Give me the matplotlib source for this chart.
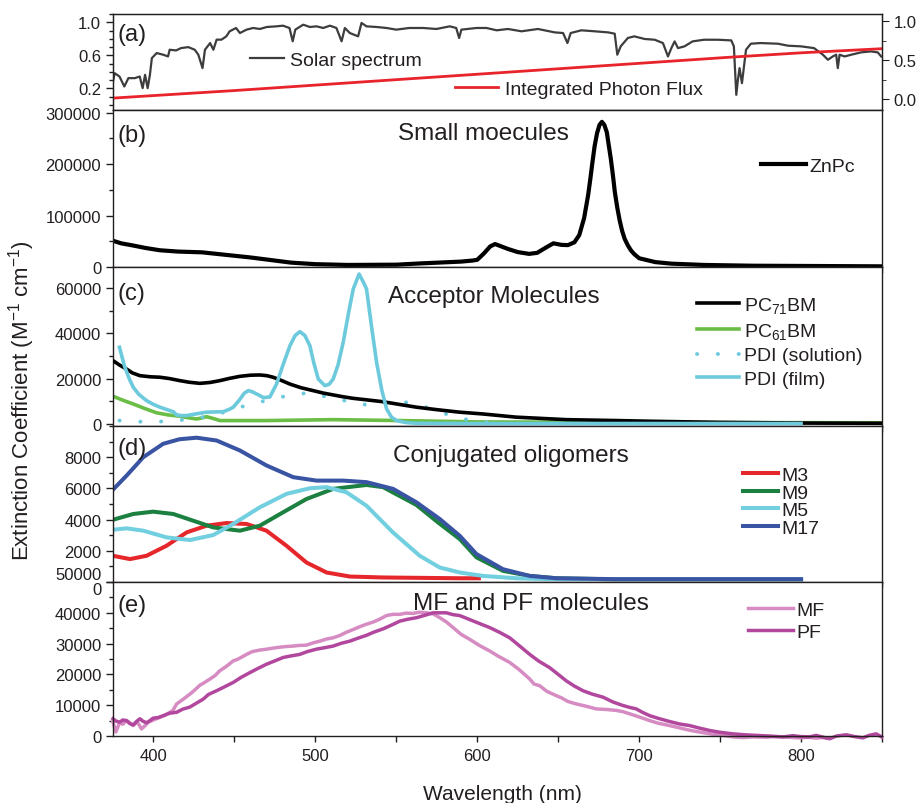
import matplotlib
matplotlib.use('Agg')
import matplotlib.pyplot as plt
from matplotlib.ticker import MultipleLocator, FixedLocator, FormatStrFormatter

plt.rcParams['font.family'] = ['Liberation Sans', 'DejaVu Sans']
plt.rcParams['mathtext.fontset'] = 'custom'
plt.rcParams['mathtext.rm'] = 'Liberation Sans'
plt.rcParams['mathtext.it'] = 'Liberation Sans:italic'
plt.rcParams['mathtext.default'] = 'regular'
TXT = '#231f20'
plt.rcParams['text.color'] = TXT
plt.rcParams['xtick.color'] = TXT
plt.rcParams['ytick.color'] = TXT
plt.rcParams['axes.edgecolor'] = '#231f20'

# ---------------- data ----------------
# (a) solar spectrum (normalised) and integrated photon flux
solar_wl = [375, 376, 379, 382, 384.5, 388.5, 391.5, 393.3, 394.8, 396.4,
            397.8, 399, 402, 406, 409, 410, 414, 417, 421.5, 425.5,
            427.7, 430.3, 431.8, 435, 437, 439, 442, 445, 447, 451,
            453.4, 457.5, 461.6, 465.7, 470, 476, 480, 484, 486, 487.6,
            492.5, 496.6, 500.7, 504.8, 509, 513, 516.2, 518.2, 521.3, 526.4,
            528.5, 531.6, 537.8, 544, 550, 558, 566.6, 574.8, 583, 587,
            588.8, 590.2, 599.5, 605.7, 612, 619, 627.3, 637.5, 647.8, 653,
            655.7, 657.7, 664.3, 672.5, 680.8, 684.9, 686.5, 688.6, 693, 697,
            703.4, 709.6, 714.7, 717.8, 719.9, 721.9, 724, 728, 733, 740,
            748.7, 756.9, 758.5, 760, 761, 762, 763.5, 766, 769, 775,
            785.7, 791.9, 800, 808, 813.5, 816.6, 819.6, 821.7, 822.7, 823.8,
            826.9, 831, 837, 843, 847.4, 849.5]
solar_val = [0.285, 0.385, 0.345, 0.224, 0.325, 0.325, 0.345, 0.204, 0.365, 0.204,
             0.365, 0.567, 0.628, 0.608, 0.587, 0.668, 0.66, 0.688, 0.70, 0.668,
             0.608, 0.446, 0.668, 0.749, 0.668, 0.79, 0.79, 0.83, 0.89, 0.931,
             0.87, 0.911, 0.931, 0.919, 0.943, 0.951, 0.959, 0.931, 0.77, 0.911,
             0.971, 0.943, 0.951, 0.931, 0.959, 0.931, 0.77, 0.931, 0.87, 0.83,
             0.992, 0.951, 0.943, 0.931, 0.911, 0.931, 0.931, 0.919, 0.951, 0.931,
             0.81, 0.911, 0.931, 0.931, 0.903, 0.919, 0.891, 0.919, 0.878, 0.87,
             0.749, 0.87, 0.903, 0.891, 0.878, 0.862, 0.608, 0.709, 0.81, 0.83,
             0.798, 0.789, 0.749, 0.587, 0.688, 0.769, 0.688, 0.709, 0.769, 0.789,
             0.789, 0.781, 0.709, 0.123, 0.305, 0.446, 0.264, 0.668, 0.741, 0.749,
             0.741, 0.717, 0.709, 0.688, 0.608, 0.547, 0.587, 0.608, 0.446, 0.608,
             0.587, 0.608, 0.636, 0.648, 0.636, 0.587]
flux_wl = [375, 450, 500, 550, 611, 700, 755, 800, 850]
flux_val = [0.013, 0.11, 0.18, 0.25, 0.335, 0.46, 0.537, 0.595, 0.648]

# (b) ZnPc
zn_wl = [375, 380, 387, 395, 404, 415, 430, 445, 460, 475, 485, 500, 520, 550,
         565, 583, 590, 597, 600, 604, 608, 611, 614, 619, 625, 632, 637, 642,
         647, 652, 656, 660, 663, 666, 668.5, 669.8, 671, 672.5, 674, 675.5,
         677, 678.5, 680, 682.5, 683.8, 685, 686.5, 688, 689.5, 691, 693, 695,
         697, 700, 710, 720, 740, 770, 850]
zn_val = [51000, 46000, 42000, 37000, 32500, 30000, 28500, 23500, 18500, 12500,
          8500, 5500, 4000, 4500, 7000, 9500, 10500, 12500, 14000, 26000, 40000,
          44600, 41000, 35000, 29000, 25500, 27500, 37000, 46000, 43000, 42500,
          48000, 62000, 95000, 140000, 170000, 200000, 235000, 260000, 276000,
          282000, 276000, 262000, 210000, 178000, 145000, 115000, 90000, 70000,
          55000, 42000, 32000, 25000, 17000, 9500, 6500, 4000, 2500, 1300]

# (c) acceptors
pc71_wl = [375, 379, 383.4, 387, 391.6, 398, 404, 410, 416.3, 422, 428.7, 435,
           441, 447, 453.4, 460, 465.7, 470, 473.9, 479, 484.2, 491, 498.6, 505,
           511, 517, 523.3, 532, 541.8, 552, 562.4, 575, 589, 603.6, 624, 655,
           686, 706.5, 750, 800, 850]
pc71_val = [27900, 26000, 24200, 22500, 21300, 20800, 20600, 20000, 19100, 18400,
            17900, 18300, 19100, 20100, 21000, 21500, 21600, 21300, 20600, 19200,
            17600, 16000, 14700, 13600, 12800, 12000, 11300, 10600, 9800, 8600,
            7400, 6300, 5200, 4400, 3000, 1900, 1500, 1200, 700, 400, 300]
pc61_wl = [375, 381, 387.5, 395, 402, 409, 416.3, 421, 426.6, 429.5, 432.8, 436,
           441, 470, 511, 552, 600, 700, 850]
pc61_val = [12200, 10500, 8800, 6700, 4900, 4000, 3400, 2800, 2200, 2600, 3200,
            2600, 1500, 1500, 1900, 1500, 900, 700, 500]
pdis_wl = [379, 391.6, 402.9, 414.3, 426.6, 437.9, 449.2, 461, 472.9, 484.2,
           496.2, 507.9, 519.2, 530.9, 542, 554.2, 565.5, 577.2, 589.2, 601, 612]
pdis_val = [1500, 1000, 1000, 1500, 2500, 4000, 6300, 9100, 10700, 12800,
            13700, 11800, 10100, 8500, 9000, 9800, 8100, 5200, 2500, 1000, 500]
pdif_wl = [379, 382, 385, 387.5, 391, 395.7, 400, 404, 408, 412.2, 414.3, 417,
           420.5, 426, 432.8, 438, 443.1, 447, 449.3, 453, 456, 458.6, 461,
           465.7, 468, 471.9, 476, 480, 484.3, 487.5, 490.4, 493.5, 496.6, 499,
           501.8, 505.9, 508.5, 511, 514, 517.2, 520.5, 523.4, 527, 530, 531.6,
           534.5, 537.8, 541, 544, 547, 550, 556, 562.4, 600, 700, 800]
pdif_val = [33800, 25700, 20000, 16200, 13000, 10300, 8600, 7400, 6400, 5400,
            4000, 3700, 3700, 4400, 5200, 5300, 5400, 6500, 7400, 10500, 13500,
            14700, 14200, 12500, 11600, 11900, 17600, 26000, 34500, 39000, 40700,
            39000, 34500, 27000, 19800, 16900, 17500, 19800, 26000, 36000, 49000,
            59500, 66100, 62000, 59500, 44000, 27200, 15000, 6600, 3000, 1500,
            600, 300, 200, 200, 200]

# (d) conjugated oligomers
m3_wl = [375, 385.5, 395.7, 408, 420.5, 432.8, 445.1, 457.5, 469.8, 482.2,
         494.5, 506.9, 521.3, 541.8, 589.2, 601]
m3_val = [1680, 1470, 1680, 2320, 3180, 3610, 3780, 3720, 3290, 2320,
          1250, 610, 350, 290, 240, 240]
m9_wl = [375, 387.5, 399.8, 412.2, 424.5, 436.9, 453.4, 465.7, 480.1, 494.5,
         511, 531.6, 541.8, 562.4, 576, 589.2, 599.5, 616, 632.4, 648.8, 680, 800]
m9_val = [3990, 4360, 4510, 4360, 3930, 3500, 3290, 3610, 4470, 5320,
          5970, 6220, 6080, 4940, 3800, 2750, 1580, 710, 390, 240, 180, 180]
m5_wl = [375, 383.4, 393.7, 408.1, 422.5, 436.9, 449.2, 465.7, 482.2, 496.6,
         506.9, 519.2, 531.6, 548, 564.5, 576.8, 589.2, 603.6, 624, 644.5, 800]
m5_val = [3350, 3440, 3290, 2860, 2690, 3010, 3720, 4790, 5650, 6010,
          6080, 5750, 4890, 3170, 1680, 930, 610, 390, 240, 180, 180]
m17_wl = [375, 383.4, 393.7, 406, 416, 426.6, 439, 453.4, 469.8, 486.3,
          500.7, 517.2, 531.6, 548, 562.4, 576.8, 589.2, 599.5, 615.9, 632.4,
          648.8, 685.9, 800]
m17_val = [5920, 6820, 8000, 8860, 9150, 9250, 9070, 8430, 7470, 6720,
           6500, 6500, 6400, 5970, 5110, 4040, 2960, 1790, 820, 390,
           240, 180, 180]

# (e) MF and PF
mf_wl = [375, 376.8, 379.2, 381, 383.4, 385.5, 387.5, 390, 392.6, 394.5, 396.8,
         400, 404, 407, 410.2, 412, 414.3, 418, 422.5, 425, 428.7, 431, 434.9,
         438, 441, 445, 449.3, 452, 457.5, 461, 465.7, 470, 476, 481, 486.3,
         490, 494.5, 499, 502.8, 507, 511, 515, 519.2, 523, 527.5, 531, 535.7,
         540, 543.9, 548, 552.2, 556, 560.4, 564, 568.7, 573, 576.9, 581, 585.1,
         590, 595.3, 601, 607.7, 613, 620, 626, 632.4, 635, 638.6, 643, 648.8,
         652, 656, 661.2, 667, 673.5, 680, 685.9, 690, 694.1, 700, 706.5, 712,
         716, 722.9, 730, 735, 739.4, 745, 751.7, 758, 764.1, 770, 778.5, 783,
         788.8, 795, 799, 805, 809.3, 813, 817.6]
mf_val = [4500, 1300, 4500, 3800, 5000, 4200, 3400, 4600, 2300, 3200, 4500,
          5200, 6100, 6700, 7700, 8300, 10400, 11800, 13600, 14700, 16500, 17200,
          18500, 19600, 21200, 22600, 24400, 24900, 26500, 27400, 27900, 28200,
          28700, 29000, 29200, 29400, 29500, 30300, 30800, 31500, 31900, 32600,
          33700, 34500, 35500, 36200, 37000, 38000, 39100, 39500, 39500, 39900,
          39800, 40200, 40000, 39600, 38400, 37000, 35200, 33000, 31400, 29500,
          27600, 25900, 23900, 21500, 18500, 16900, 16300, 14500, 13100, 12400,
          11200, 10400, 9700, 8800, 8600, 8300, 7900, 7200, 6200, 5000, 4100,
          3700, 2900, 2000, 1500, 1100, 600, 200, -300, -500, -300, -400, -200,
          -300, -500, -600, -400, -700, -500, -700]
pf_wl = [375, 377, 379.2, 381, 383.4, 385.5, 387.5, 389.5, 391.6, 393.5, 395.7,
         397.8, 399.8, 403, 406, 410, 414.3, 418, 422.5, 426, 430.8, 434, 439,
         444, 449.3, 454, 459.6, 464, 469.8, 475, 480.1, 485, 490.4, 495, 500.7,
         505, 511, 516, 521.3, 526, 531.6, 536, 541.9, 547, 552.2, 557, 562.4,
         567, 572.7, 577, 580.9, 585, 589.2, 595.3, 601, 607.7, 614, 620, 626,
         632.4, 638, 644.7, 650, 655, 660, 665.3, 671, 677.7, 684, 690, 694,
         698.2, 702, 706.5, 712, 718.8, 725, 731.1, 737, 743.5, 750, 757.9, 765,
         772.3, 780, 788.8, 795, 800, 805.2, 809.3, 813, 817.6, 822, 827.9, 833,
         838.2, 842, 846.4, 849.8]
pf_val = [5600, 4800, 4500, 5200, 5000, 4000, 3600, 4700, 5600, 4800, 4300,
          5000, 5800, 6000, 6600, 7400, 7700, 8700, 9400, 10500, 12000, 13500,
          14700, 16000, 17400, 19000, 20600, 21800, 23300, 24400, 25500, 26000,
          26500, 27400, 28200, 28600, 29200, 30100, 30800, 31700, 32700, 33700,
          34800, 36000, 37300, 37900, 38400, 39100, 40000, 40000, 40000, 39400,
          39100, 37800, 36600, 35200, 33600, 31900, 29300, 26500, 24300, 22200,
          20000, 17900, 16200, 14700, 13600, 12600, 11000, 9900, 9300, 8800, 7700,
          6600, 5700, 4700, 3900, 3400, 2600, 1800, 1200, 700, 400, 200, 0, -300,
          100, -200, -300, 200, -300, -900, 0, 400, -200, -600, 200, 700, -300]

# ---------------- figure ----------------
fig = plt.figure(figsize=(9.18, 8.04), dpi=100)
gs = fig.add_gridspec(5, 1, left=113/918, right=882/918, top=1-15/804,
                      bottom=1-737/804, height_ratios=[96, 157, 159, 156, 154],
                      hspace=0)
axes = [fig.add_subplot(gs[i]) for i in range(5)]
axa, axb, axc, axd, axe = axes

for ax in axes:
    ax.set_xlim(375, 850)
    ax.tick_params(axis='both', which='both', direction='out', labelsize=12,
                   width=1)
    ax.tick_params(axis='y', which='major', length=5)
    ax.tick_params(axis='y', which='minor', length=3)
    ax.tick_params(axis='x', which='both', length=4)
    for s in ax.spines.values():
        s.set_linewidth(1)
    ax.xaxis.set_major_locator(MultipleLocator(100))
    ax.xaxis.set_minor_locator(MultipleLocator(50))
    ax.tick_params(axis='x', labelbottom=False)
axe.tick_params(axis='x', labelbottom=True, labelsize=12, pad=5)

LFS = 14

# (a)
axa.plot(solar_wl, solar_val, color='#3d3d3d', lw=1.6, label='Solar spectrum')
axa.set_ylim(-0.06, 1.10)
axa.yaxis.set_major_locator(FixedLocator([0.2, 0.6, 1.0]))
axa.yaxis.set_minor_locator(MultipleLocator(0.1))
axa.yaxis.set_major_formatter(FormatStrFormatter('%.1f'))
axa.xaxis.set_major_locator(FixedLocator([500, 750]))
axa.xaxis.set_minor_locator(FixedLocator([]))
axa2 = axa.twinx()
axa2.set_xlim(375, 850)
axa2.plot(flux_wl, flux_val, color='#e8232a', lw=2.0, label='Integrated Photon Flux')
axa2.set_ylim(-0.14, 1.094)
axa2.yaxis.set_major_locator(FixedLocator([0.0, 0.5, 1.0]))
axa2.yaxis.set_minor_locator(MultipleLocator(0.25))
axa2.yaxis.set_major_formatter(FormatStrFormatter('%.1f'))
axa2.tick_params(axis='y', which='both', direction='out', labelsize=12)
axa2.tick_params(axis='y', which='major', length=5)
axa2.tick_params(axis='y', which='minor', length=3)
axa.legend(loc='center left', bbox_to_anchor=(0.178, 0.52), frameon=False,
           borderpad=0, borderaxespad=0, handlelength=1.75, handletextpad=0.3,
           fontsize=LFS)
axa2.legend(loc='center left', bbox_to_anchor=(0.445, 0.219), frameon=False,
            borderpad=0, borderaxespad=0, handlelength=2.2, handletextpad=0.35,
            fontsize=LFS)

# (b)
axb.plot(zn_wl, zn_val, color='black', lw=3.0, label='ZnPc')
axb.set_ylim(0, 305000)
axb.yaxis.set_major_locator(MultipleLocator(100000))
axb.yaxis.set_minor_locator(MultipleLocator(50000))
axb.legend(loc='center left', bbox_to_anchor=(0.843, 0.645), frameon=False,
           borderpad=0, borderaxespad=0, handlelength=2.3, handletextpad=0.15,
           fontsize=LFS)

# (c)
axc.plot(pc71_wl, pc71_val, color='black', lw=2.6, label='PC$_{71}$BM', zorder=3)
axc.plot(pc61_wl, pc61_val, color='#6abd45', lw=2.6, label='PC$_{61}$BM', zorder=2)
axc.plot(pdis_wl, pdis_val, color='#6ccadc', lw=2.8, dashes=(0.05, 5.3),
         dash_capstyle='round', label='PDI (solution)', zorder=2)
axc.plot(pdif_wl, pdif_val, color='#6ccadc', lw=2.6, label='PDI (film)', zorder=4)
axc.set_ylim(-900, 69200)
axc.yaxis.set_major_locator(MultipleLocator(20000))
axc.yaxis.set_minor_locator(MultipleLocator(10000))
axc.legend(loc='center left', bbox_to_anchor=(0.759, 0.531), frameon=False,
           borderpad=0, borderaxespad=0, handlelength=2.2, handletextpad=0.25,
           labelspacing=0.3, fontsize=LFS)

# (d)
axd.plot(m3_wl, m3_val, color='#e5262b', lw=2.9, label='M3')
axd.plot(m9_wl, m9_val, color='#1b8040', lw=2.9, label='M9')
axd.plot(m5_wl, m5_val, color='#72cfe0', lw=2.9, label='M5')
axd.plot(m17_wl, m17_val, color='#3a54a4', lw=2.9, label='M17')
axd.set_ylim(0, 10000)
axd.yaxis.set_major_locator(FixedLocator([0, 2000, 4000, 6000, 8000]))
axd.yaxis.set_minor_locator(MultipleLocator(1000))
axd.legend(loc='center left', bbox_to_anchor=(0.819, 0.516), frameon=False,
           borderpad=0, borderaxespad=0, handlelength=1.8, handletextpad=0.2,
           labelspacing=0.0, fontsize=LFS)

# (e)
axe.plot(mf_wl, mf_val, color='#d68cc2', lw=2.5, label='MF', clip_on=False)
axe.plot(pf_wl, pf_val, color='#b2489e', lw=2.5, label='PF', clip_on=False)
axe.set_ylim(0, 50000)
axe.yaxis.set_major_locator(MultipleLocator(10000))
axe.yaxis.set_minor_locator(MultipleLocator(5000))
axe.legend(loc='center left', bbox_to_anchor=(0.826, 0.747), frameon=False,
           borderpad=0, borderaxespad=0, handlelength=2.3, handletextpad=0.2,
           labelspacing=0.24, fontsize=LFS)

fig.canvas.draw()
for lab in axe.get_yticklabels():
    if lab.get_text() == '50000':
        lab.set_verticalalignment('bottom')
for lab in axd.get_yticklabels():
    if lab.get_text() == '0':
        lab.set_verticalalignment('top')

# panel labels and titles
TFS = 17.5
labels = ['(a)', '(b)', '(c)', '(d)', '(e)']
lab_y = [0.732, 0.804, 0.799, 0.82, 0.814]
for ax, t, y in zip(axes, labels, lab_y):
    ax.text(0.0065, y, t, transform=ax.transAxes, fontsize=17, va='baseline',
            ha='left', zorder=10)
axb.text(0.371, 0.815, 'Small moecules', transform=axb.transAxes, fontsize=TFS,
         va='baseline', ha='left')
axc.text(0.358, 0.778, 'Acceptor Molecules', transform=axc.transAxes,
         fontsize=TFS, va='baseline', ha='left')
axd.text(0.364, 0.778, 'Conjugated oligomers', transform=axd.transAxes,
         fontsize=TFS, va='baseline', ha='left')
axe.text(0.390, 0.825, 'MF and PF molecules', transform=axe.transAxes,
         fontsize=TFS, va='baseline', ha='left')

fig.text(502/918, 1-800/804, 'Wavelength (nm)', fontsize=15, ha='center',
         va='baseline')
fig.text(22/918, 1-401/804, 'Extinction Coefficient (M$^{-1}$ cm$^{-1}$)',
         fontsize=16, rotation=90, ha='center', va='center')

fig.savefig('out.png', dpi=100)
